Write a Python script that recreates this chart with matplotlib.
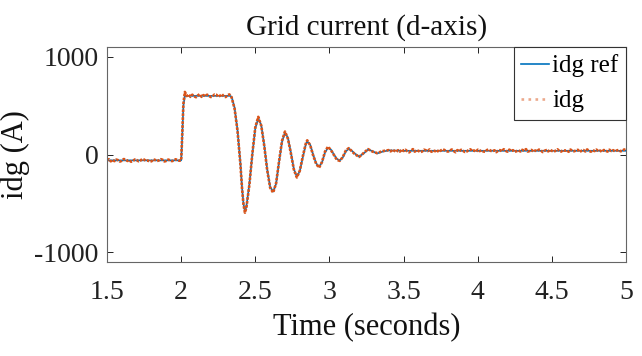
import numpy as np
import matplotlib
matplotlib.use("Agg")
import matplotlib.pyplot as plt

plt.rcParams['font.family'] = ['Liberation Serif', 'DejaVu Serif']
plt.rcParams['axes.unicode_minus'] = False

# reference current idg ref (A)
t_ref = [1.50, 2.00, 2.005, 2.015, 2.025, 2.33, 2.34, 2.36, 2.38, 2.40, 2.41, 2.42,
         2.43, 2.44, 2.46, 2.48, 2.50, 2.52, 2.54, 2.56, 2.58, 2.60, 2.62, 2.64,
         2.66, 2.68, 2.70, 2.72, 2.74, 2.76, 2.78, 2.80, 2.82, 2.84, 2.85, 2.87,
         2.89, 2.91, 2.93, 2.95, 2.97, 2.99, 3.01, 3.03, 3.05, 3.07, 3.09, 3.11,
         3.13, 3.15, 3.17, 3.20, 3.23, 3.26, 3.29, 3.32, 3.36, 3.40, 3.50, 4.00,
         4.50, 5.00]
idg_ref = [-60, -60, 100, 500, 600, 600, 590, 480, 250, -100, -330, -500,
           -585, -530, -300, 0, 270, 370, 300, 100, -150, -330, -380, -300,
           -80, 130, 225, 170, 20, -150, -225, -170, -30, 100, 135, 100,
           0, -90, -125, -80, 20, 70, 50, 0, -45, -60, -30, 30,
           60, 40, 10, -20, 10, 50, 35, 10, 30, 42, 38, 38,
           38, 38]

t_pre = np.round(np.arange(1.5, 2.0001, 0.0125), 4)
idg_pre = [-62, -48, -70, -55, -68, -52, -58, -72, -64, -47, -50, -66, -60, -74,
           -66, -51, -57, -69, -63, -46, -52, -65, -61, -73, -69, -50, -56, -67,
           -60, -48, -54, -71, -65, -52, -59, -68, -62, -49, -57, -64, -60]
t_step = [2.005, 2.015, 2.025]
idg_step = [120, 520, 640]
t_hold = np.round(np.arange(2.0375, 2.3251, 0.0125), 4)
idg_hold = [598, 615, 590, 612, 595, 586, 604, 618, 590, 608, 596, 612,
            600, 588, 596, 614, 611, 590, 602, 617, 594, 588, 606, 615]
t_osc = [2.34, 2.36, 2.38, 2.40, 2.41, 2.42, 2.43, 2.44, 2.46, 2.48, 2.50, 2.52,
         2.54, 2.56, 2.58, 2.60, 2.62, 2.64, 2.66, 2.68, 2.70, 2.72, 2.74, 2.76,
         2.78, 2.80, 2.82, 2.84, 2.85, 2.87, 2.89, 2.91, 2.93, 2.95, 2.97, 2.99,
         3.01, 3.03, 3.05, 3.07, 3.09, 3.11, 3.13, 3.15, 3.17, 3.20, 3.23, 3.26,
         3.29, 3.32, 3.36]
idg_osc = [585, 470, 240, -110, -340, -510, -595, -540, -310, 10, 280, 385,
           295, 90, -160, -340, -390, -295, -70, 140, 235, 160, 10, -155,
           -235, -165, -20, 110, 145, 95, -10, -95, -135, -75, 30, 80,
           45, -5, -55, -65, -25, 40, 65, 35, 5, -25, 15, 55, 30, 15, 35]
t_post = np.round(np.arange(3.4, 5.0001, 0.0125), 4)
idg_post = [45, 32, 50, 38, 26, 44, 30, 52, 36, 48, 33, 22, 40, 55, 29, 44,
            37, 24, 31, 49, 43, 35, 52, 28, 40, 34, 46, 25, 39, 54, 46, 33,
            30, 42, 51, 36, 23, 45, 33, 48, 38, 26, 30, 44, 53, 36, 41, 27,
            49, 35, 42, 31, 28, 46, 52, 37, 34, 43, 24, 40, 45, 33, 54, 38,
            29, 50, 37, 44, 26, 35, 42, 31, 48, 39, 55, 30, 36, 47, 28, 41,
            34, 50, 43, 25, 38, 45, 32, 49, 37, 27, 40, 53, 35, 30, 46, 39,
            44, 28, 51, 36, 33, 42, 48, 26, 39, 45, 31, 52, 37, 29, 43, 35,
            50, 34, 40, 27, 46, 38, 30, 49, 36, 44, 32, 41, 47, 33, 38, 52, 38]

t_meas = np.concatenate([t_pre, t_step, t_hold, t_osc, t_post])
idg_meas = np.concatenate([idg_pre, idg_step, idg_hold, idg_osc, idg_post])

x_ticks = [1.5, 2, 2.5, 3, 3.5, 4, 4.5, 5]
x_labels = ['1.5', '2', '2.5', '3', '3.5', '4', '4.5', '5']
y_ticks = [-1000, 0, 1000]

fig = plt.figure(figsize=(6.42, 3.56), dpi=100)
ax = fig.add_axes([0.1667, 0.264, 0.8085, 0.604])

ax.plot(t_ref, idg_ref, color='#0072BD', lw=1.2, label='idg ref')
ax.plot(t_meas, idg_meas, color='#D95319', lw=1.9, ls=(0, (1, 0.5)), label='idg')

ax.set_xlim(1.5, 5)
ax.set_ylim(-1100, 1100)
ax.set_xticks(x_ticks)
ax.set_xticklabels(x_labels)
ax.set_yticks(y_ticks)
ax.tick_params(direction='in', length=4, width=0.7, top=True, right=True,
               labelsize=20, colors='#222222', pad=6)
ax.tick_params(axis='x', pad=13)
for s in ax.spines.values():
    s.set_color('#666666')
    s.set_linewidth(0.8)

ax.set_title('Grid current (d-axis)', fontsize=21, pad=9, color='#111111')
ax.set_xlabel('Time (seconds)', fontsize=22, labelpad=6, color='#111111')
ax.set_ylabel('idg (A)', fontsize=22, color='#111111')
ax.yaxis.set_label_coords(-0.148, 0.5)

leg = ax.legend(loc='upper right', fontsize=18, borderaxespad=0, fancybox=False,
                framealpha=1, edgecolor='#333333', handlelength=1.1,
                handletextpad=0.15, borderpad=0.3, labelspacing=0.5)
leg.get_frame().set_linewidth(0.8)
# lighter dotted sample in the legend, as in the original
leg.get_lines()[1].set_linestyle(':')
leg.get_lines()[1].set_alpha(0.5)

fig.savefig('out.png', dpi=100)
